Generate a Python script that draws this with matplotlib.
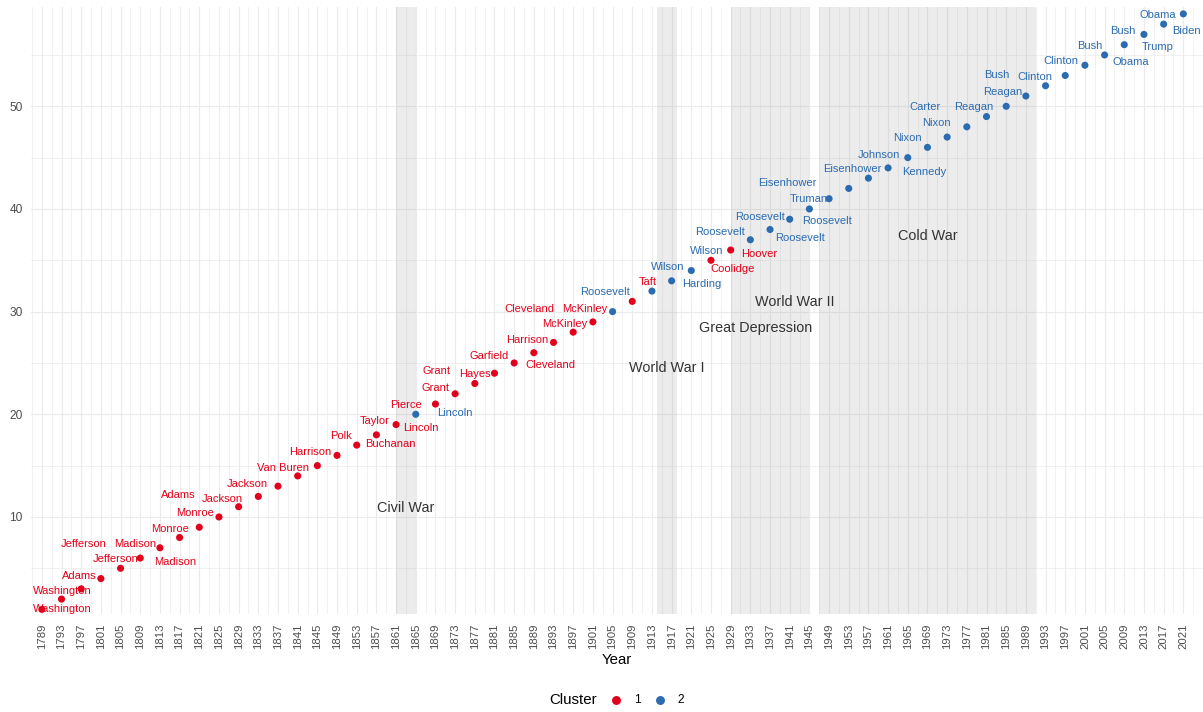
import numpy as np
import matplotlib.pyplot as plt
from matplotlib.lines import Line2D

plt.rcParams['font.family'] = ['Liberation Sans', 'DejaVu Sans']

# presidents by term start
years = list(range(1789, 2022, 4))
names = ["Washington", "Washington", "Adams", "Jefferson", "Jefferson", "Madison", "Madison",
         "Monroe", "Monroe", "Adams", "Jackson", "Jackson", "Van Buren", "Harrison", "Polk",
         "Taylor", "Pierce", "Buchanan", "Lincoln", "Lincoln", "Grant", "Grant", "Hayes",
         "Garfield", "Cleveland", "Harrison", "Cleveland", "McKinley", "McKinley", "Roosevelt",
         "Taft", "Wilson", "Wilson", "Harding", "Coolidge", "Hoover", "Roosevelt", "Roosevelt",
         "Roosevelt", "Roosevelt", "Truman", "Eisenhower", "Eisenhower", "Kennedy", "Johnson",
         "Nixon", "Nixon", "Carter", "Reagan", "Reagan", "Bush", "Clinton", "Clinton", "Bush",
         "Bush", "Obama", "Obama", "Trump", "Biden"]
cluster = [1] * 19 + [2] + [1] * 9 + [2] + [1] + [2] * 3 + [1] * 2 + [2] * 23
order = list(range(1, len(years) + 1))

# label offsets (years, units)
nudge_x = [4.2, 0.2, -0.4, -3.5, -1.0, -1.1, 3.1, -2.0, -0.8, -8.2, -3.4, -2.3, 1.0, 2.5, 4.9,
           7.7, 10.0, 2.8, 5.0, 7.9, 0.1, -3.7, 0.1, -1.0, 7.3, -1.4, -5.0, -1.8, -1.7, -1.5,
           3.2, 3.3, 7.2, 2.1, 4.3, 5.9, -6.1, 6.0, -6.1, 3.5, -4.2, -12.4, -3.2, 7.4, -5.8,
           -4.0, -2.1, -8.4, -2.6, -0.6, -6.0, -2.2, -0.8, 1.0, 3.8, 1.3, 2.8, -1.3, 0.6]
nudge_y = [0.07, 0.79, 1.29, 3.34, 0.88, 1.34, -1.35, 0.87, 1.39, 2.11, 0.72, 1.19, 1.81, 2.31,
           2.87, 3.33, 3.89, -0.91, -0.38, 0.11, 1.61, 2.2, 0.94, 1.66, -0.15, 1.19, 3.24, 0.75,
           1.24, 1.87, 1.85, 2.37, 2.87, -1.35, -0.89, -0.4, 0.72, -0.87, 0.24, -1.18, -0.06,
           0.5, 0.89, -0.37, 0.25, 0.88, 1.34, 1.96, 0.9, 1.42, 2.05, 0.89, 1.41, 1.91, 2.34,
           -1.71, 1.9, -2.19, -1.66]

# historical periods
event_names = ["Civil War", "World War I", "Great Depression", "World War II", "Cold War"]
event_start = [1861, 1914, 1929, 1939, 1947]
event_end = [1865, 1918, 1939, 1945, 1991]
event_text_y = [10.9, 24.5, 28.4, 30.9, 37.4]

colors = {1: '#E2001A', 2: '#2B6BB0'}

fig = plt.figure(figsize=(12.03, 7.12), dpi=100)
ax = fig.add_axes([31 / 1203, 1 - 614 / 712, 1 - 31 / 1203, (614 - 6.7) / 712])

ax.set_xlim(1786.8, 2025.0)
ax.set_ylim(0.55, 59.7)

# grid like theme_minimal
for x in np.arange(1787, 2026, 2):
    major = (x - 1789) % 4 == 0
    ax.axvline(x, color='#EBEBEB', lw=0.85 if major else 0.5, zorder=0)
for y in np.arange(5, 60, 5):
    major = y % 10 == 0
    ax.axhline(y, color='#EBEBEB', lw=0.85 if major else 0.5, zorder=0)

for name, s, e, ty in zip(event_names, event_start, event_end, event_text_y):
    ax.axvspan(s, e, color='grey', alpha=0.15, lw=0, zorder=1)
    ax.text((s + e) / 2, ty, name, ha='center', va='center', fontsize=10.4,
            color='#333333', zorder=3)

cols = [colors[c] for c in cluster]
ax.scatter(years, order, s=26, c=cols, zorder=4, linewidths=0)

for yr, o, nm, c, dx, dy in zip(years, order, names, cluster, nudge_x, nudge_y):
    ax.text(yr + dx, o + dy, nm, ha='center', va='center', fontsize=8,
            color=colors[c], zorder=5)

ax.set_xticks(years)
ax.set_xticklabels([str(y) for y in years], rotation=90, fontsize=8.2, color='#4D4D4D')
ax.set_yticks([10, 20, 30, 40, 50])
ax.tick_params(axis='y', labelsize=8.6, labelcolor='#4D4D4D', length=0, pad=6)
ax.tick_params(axis='x', length=0, pad=7)
for sp in ax.spines.values():
    sp.set_visible(False)

fig.text(617 / 1203, 1 - 660 / 712, "Year", ha='center', va='center', fontsize=10.8)

# legend at bottom
ly = 1 - 700 / 712
fig.text(573 / 1203, ly, "Cluster", ha='center', va='center', fontsize=10.8)
for c, mx, tx in [(1, 615.7, 637), (2, 660, 681)]:
    fig.add_artist(Line2D([mx / 1203], [ly], transform=fig.transFigure, marker='o',
                          markersize=5.4, color=colors[c], lw=0))
    fig.text(tx / 1203, ly, str(c), ha='center', va='center', fontsize=8.6)

fig.savefig('out.png', dpi=100)
